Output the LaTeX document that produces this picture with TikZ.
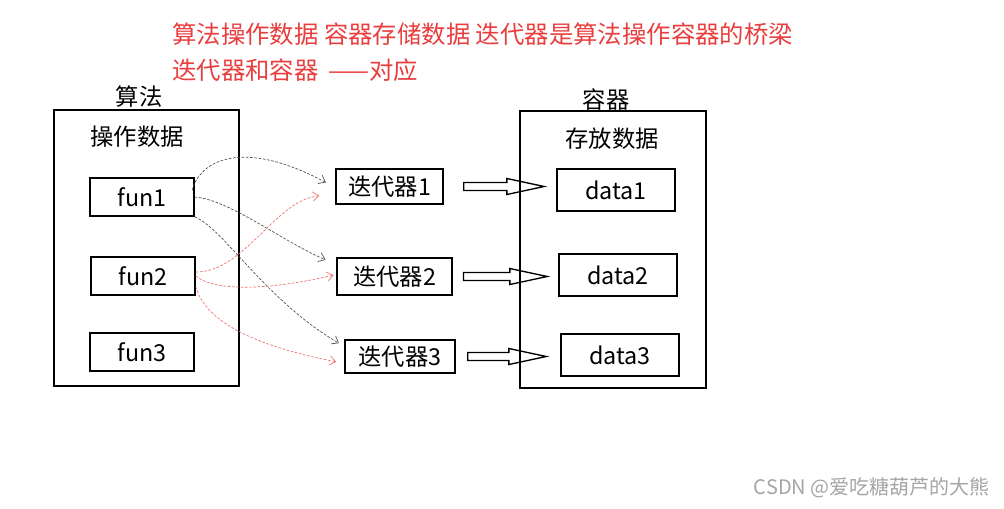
\documentclass[tikz,border=0pt]{standalone}
\usepackage{fontspec}
\setmainfont{Noto Sans CJK SC}
\usetikzlibrary{arrows.meta,calc}
\definecolor{notered}{RGB}{232,62,62}
\definecolor{markgray}{RGB}{165,165,165}
\tikzset{
  txt/.style={font=\fontsize{17.5pt}{21pt}\selectfont},
  headtxt/.style={font=\fontsize{18.3pt}{22pt}\selectfont, notered, anchor=west, inner sep=0pt},
  box/.style={draw, line width=1.2pt, inner sep=0pt, txt},
  bigframe/.style={line width=1.3pt},
  link/.style={dash pattern=on 2pt off 1.2pt, line width=0.5pt, black!70,
    -{Straight Barb[length=4.5pt,width=7pt]}},
  redlink/.style={link, notered!75},
  hollow/.style={line width=1pt, to path={let \p1=(\tikztostart), \p2=(\tikztotarget) in
    (\x1,\y1+3pt) -- (\x2-28pt,\y1+3pt) -- (\x2-28pt,\y1+6pt) -- (\x2,\y1)
    -- (\x2-28pt,\y1-6pt) -- (\x2-28pt,\y1-3pt) -- (\x1,\y1-3pt) -- cycle}}
}
\begin{document}
\begin{tikzpicture}[x=0.75pt,y=-0.75pt]
    \useasboundingbox (0,0) rectangle (1004,508);
    % 标题
    \node[headtxt] (title) at (172,34) {算法操作数据 容器存储数据 迭代器是算法操作容器的桥梁};
    \node[headtxt] (subtitle) at (172,70) {迭代器和容器 \,——对应};
    % 算法
    \draw[bigframe] (54,110) rectangle (239,386);
    \node[txt] (alg) at (139,97) {算法};
    \node[txt] (algop) at (137,137) {操作数据};
    \node[box, minimum width=78pt, minimum height=28.5pt] (f1) at (142,197) {fun1};
    \node[box, minimum width=78pt, minimum height=28.5pt] (f2) at (143,276) {fun2};
    \node[box, minimum width=78pt, minimum height=28.5pt] (f3) at (142,352) {fun3};
    % 迭代器
    \node[box, minimum width=80.25pt, minimum height=26.25pt] (it1) at (389.5,186.5) {迭代器1};
    \node[box, minimum width=86.25pt, minimum height=27.75pt] (it2) at (394.5,276.5) {迭代器2};
    \node[box, minimum width=82.5pt, minimum height=24.75pt] (it3) at (400,356.5) {迭代器3};
    % 容器
    \draw[bigframe] (520,111) rectangle (706,388);
    \node[txt] (cont) at (606,100) {容器};
    \node[txt] (contst) at (612,139) {存放数据};
    \node[box, minimum width=88.5pt, minimum height=31.5pt] (d1) at (616,190) {data1};
    \node[box, minimum width=88.5pt, minimum height=31.5pt] (d2) at (618,275) {data2};
    \node[box, minimum width=88.5pt, minimum height=31.5pt] (d3) at (620,355) {data3};
    % 迭代器 -> 容器
    \draw[hollow] ([xshift=15pt]it1.east) to ($(d1.west |- it1.east)+(-12,-2)$);
    \draw[hollow] ([xshift=8pt]it2.east) to ($(d2.west |- it2.east)+(-11,0)$);
    \draw[hollow] ([xshift=9pt]it3.east) to ($(d3.west |- it3.east)+(-14,-4)$);
    % fun1 -> 迭代器
    \draw[link] ([xshift=-2pt,yshift=5pt]f1.east) .. controls (200,160) and (243,138) .. ([xshift=-7pt,yshift=3pt]it1.west);
    \draw[link] (f1.east) .. controls (230,200) and (280,240) .. ([xshift=-8pt,yshift=-2pt]it2.north west);
    \draw[link] (f1.south east) .. controls (225,230) and (265,300) .. ([xshift=-4pt,yshift=10pt]it3.west);
    % fun2 -> 迭代器
    \draw[redlink] ([yshift=3pt]f2.east) .. controls (245,272) and (275,200) .. ([xshift=-12pt,yshift=-7pt]it1.west);
    \draw[redlink] (f2.east) .. controls (215,292) and (270,290) .. ([xshift=-2pt,yshift=1pt]it2.west);
    \draw[redlink] ([yshift=-8pt]f2.east) .. controls (205,320) and (250,345) .. ([xshift=-6pt,yshift=-4pt]it3.west);
    % 水印
    \node[font=\fontsize{15pt}{18pt}\selectfont, markgray, anchor=east, inner sep=0pt] (mark) at (990,488) {CSDN @爱吃糖葫芦的大熊};
\end{tikzpicture}
\end{document}
